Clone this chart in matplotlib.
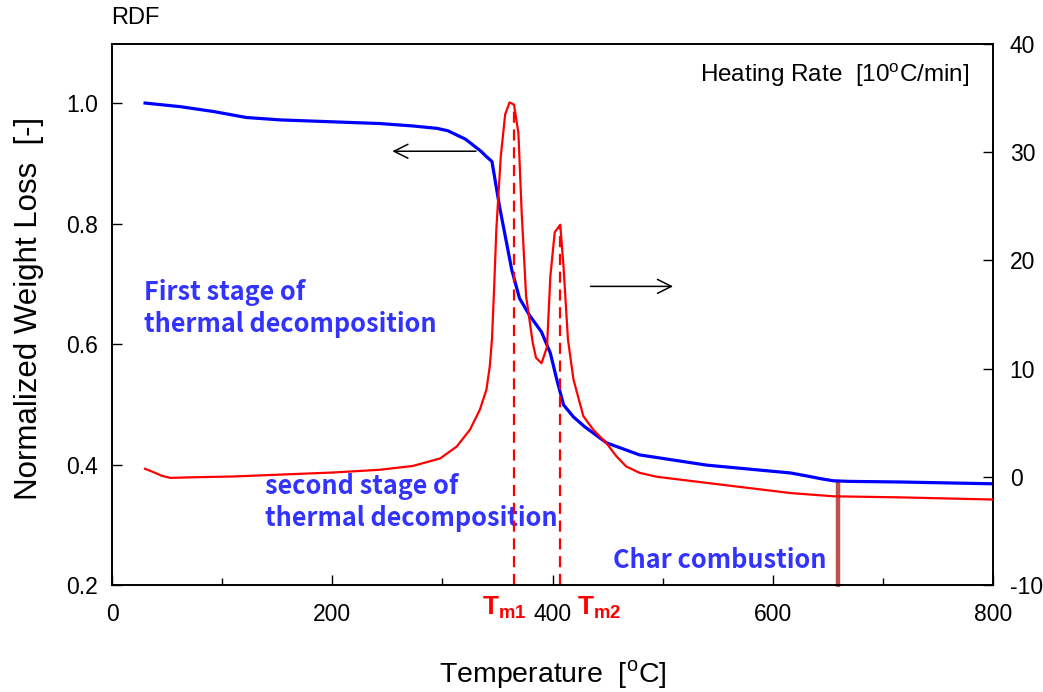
import numpy as np
import matplotlib
matplotlib.use("Agg")
import matplotlib.pyplot as plt

plt.rcParams["font.family"] = ["Liberation Sans", "DejaVu Sans"]
plt.rcParams["mathtext.fontset"] = "custom"
plt.rcParams["mathtext.rm"] = "Liberation Sans"
plt.rcParams["mathtext.bf"] = "Liberation Sans:bold"
plt.rcParams["axes.unicode_minus"] = False

# TGA weight loss (left axis)
temp_w = [30, 62, 92, 122, 153, 198, 243, 273, 295, 305, 313, 321, 328, 335,
          340, 345, 352, 363, 370, 379, 390, 398, 404, 410, 419, 429, 449,
          479, 540, 616, 631, 645, 655, 670, 716, 800]
weight = [1.000, 0.994, 0.986, 0.976, 0.972, 0.969, 0.966, 0.962, 0.958,
          0.954, 0.947, 0.940, 0.930, 0.920, 0.911, 0.903, 0.827, 0.723,
          0.676, 0.648, 0.620, 0.585, 0.540, 0.499, 0.479, 0.463, 0.436,
          0.416, 0.399, 0.386, 0.381, 0.376, 0.373, 0.372, 0.371, 0.368]

# DTG heating-rate curve (right axis)
temp_r = [30, 37, 45, 53, 70, 110, 201, 243, 273, 298, 313, 325, 334, 340,
          343, 345, 347, 349, 353, 357, 361, 365, 369, 372, 376, 382, 385,
          390, 395, 398, 402, 407, 410, 414, 419, 428, 437, 449, 458, 467,
          479, 495, 540, 616, 655, 716, 800]
rate = [0.74, 0.46, 0.1, -0.1, -0.05, 0.03, 0.4, 0.65, 1.0, 1.7, 2.8, 4.35,
        6.2, 8.06, 10.2, 12.7, 17.5, 22.9, 29.6, 33.5, 34.6, 34.4, 31.8,
        24.4, 16.7, 12.4, 11.0, 10.5, 12.0, 18.5, 22.6, 23.3, 19.4, 12.7,
        9.0, 5.6, 4.35, 3.1, 1.9, 0.95, 0.37, 0.0, -0.56, -1.5, -1.8, -1.9,
        -2.1]

# peak temperatures and char combustion onset
tm1, tm1_rate = 365, 34.4
tm2, tm2_rate = 407, 23.3
t_char, w_char = 659, 0.372

fig = plt.figure(figsize=(10.43, 6.92), dpi=100)
ax = fig.add_axes([0.1074, 0.1546, 0.8447, 0.7818])
ax2 = ax.twinx()

ax.plot(temp_w, weight, color="#0000ff", lw=2.3, zorder=3)
ax2.plot(temp_r, rate, color="#ff0000", lw=1.6, zorder=3)

# peak markers
ax2.plot([tm1, tm1], [-10, tm1_rate], color="#ff0000", lw=1.6, ls=(0, (5, 3)))
ax2.plot([tm2, tm2], [-10, tm2_rate], color="#ff0000", lw=1.6, ls=(0, (5, 3)))
ax.plot([t_char, t_char], [0.197, w_char], color="#c0504d", lw=3.2,
        solid_capstyle="butt", clip_on=False, zorder=2)

ax.set_xlim(0, 800)
ax.set_ylim(0.2, 1.098)
ax2.set_ylim(-10, 40)

ax.set_xticks([0, 200, 400, 600, 800])
ax.set_xticks([100, 300, 500, 700], minor=True)
ax.set_yticks([0.2, 0.4, 0.6, 0.8, 1.0])
ax.set_yticklabels(["0.2", "0.4", "0.6", "0.8", "1.0"])
ax2.set_yticks([-10, 0, 10, 20, 30, 40])

ax.tick_params(axis="x", which="major", direction="in", length=7, width=1,
               pad=13, labelsize=16.5)
ax.tick_params(axis="x", which="minor", direction="in", length=5, width=1)
ax.tick_params(axis="y", direction="in", length=7, width=1, pad=10,
               labelsize=16.5)
ax2.tick_params(axis="y", direction="in", length=7, width=1, pad=12,
                labelsize=16.5)
for a in (ax, ax2):
    for s in a.spines.values():
        s.set_linewidth(1.2)

fig.text(0.028, 0.555, "Normalized Weight Loss  [-]", rotation=90,
         ha="center", va="center", fontsize=22.5)
fig.text(0.53, 0.025, r"Temperature  [$^{\rm o}$C]", ha="center",
         va="center", fontsize=20.5)
fig.text(0.107, 0.974, "RDF", ha="left", va="center", fontsize=17)
ax.text(0.973, 0.943, r"Heating Rate  [10$^{\rm o}$C/min]",
        transform=ax.transAxes, ha="right", va="center", fontsize=17.5)

kfont = ["Noto Sans CJK KR", "DejaVu Sans"]
blue = "#3333ff"
label_kw = dict(color=blue, family=kfont, fontweight="bold", fontsize=18.2,
                va="center", ha="left")
ax.text(29, 0.686, "First stage of", **label_kw)
ax.text(29, 0.632, "thermal decomposition", **label_kw)
ax.text(139, 0.363, "second stage of", **label_kw)
ax.text(139, 0.311, "thermal decomposition", **label_kw)
ax.text(455, 0.2415, "Char combustion", **label_kw)

# Tm labels under the axis
ax.text(356, -0.0425, r"$\mathbf{T}_{\mathbf{m1}}$", color="#ff0000",
        transform=ax.get_xaxis_transform(), ha="center", va="center",
        fontsize=19)
ax.text(442, -0.0425, r"$\mathbf{T}_{\mathbf{m2}}$", color="#ff0000",
        transform=ax.get_xaxis_transform(), ha="center", va="center",
        fontsize=19)

# direction arrows
ax.annotate("", xy=(252, 0.92), xytext=(333, 0.92),
            arrowprops=dict(arrowstyle="->", color="black", lw=1.1,
                            mutation_scale=25))
ax2.annotate("", xy=(512, 17.6), xytext=(432, 17.6),
             arrowprops=dict(arrowstyle="->", color="black", lw=1.1,
                             mutation_scale=25))

fig.savefig("out.png", dpi=100)
